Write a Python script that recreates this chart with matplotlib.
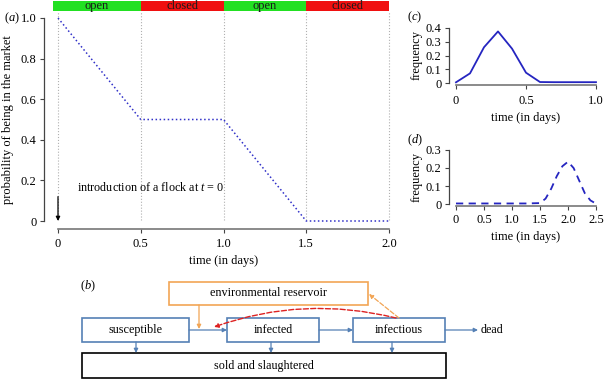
import numpy as np
import matplotlib
matplotlib.use("Agg")
import matplotlib.pyplot as plt
from matplotlib.patches import Rectangle

plt.rcParams["font.family"] = ["Liberation Serif", "DejaVu Serif"]
plt.rcParams["mathtext.fontset"] = "custom"
plt.rcParams["mathtext.rm"] = "Liberation Serif"
plt.rcParams["mathtext.it"] = "Liberation Serif:italic"
plt.rcParams["font.size"] = 9

# panel (a): market schedule and presence probability
a_t = [0, 0.5, 1.0, 1.5, 2.0]
a_p = [1.0, 0.5, 0.5, 0.0, 0.0]
phases = ["open", "closed", "open", "closed"]
phase_edges = [-0.03, 0.5, 1.0, 1.5, 2.0]

# panel (c): time to infection
c_t = [0, 0.1, 0.2, 0.3, 0.4, 0.5, 0.6, 0.7, 0.8, 0.9, 1.0]
c_f = [0.005, 0.07, 0.26, 0.375, 0.25, 0.075, 0.007, 0.006, 0.006, 0.006, 0.006]

# panel (d): time in market
d_t = [0, 0.25, 0.5, 0.75, 1.0, 1.25, 1.5, 1.6, 1.7, 1.8, 1.9, 2.0, 2.1, 2.2, 2.3, 2.4, 2.5]
d_f = [0.003, 0.003, 0.003, 0.003, 0.003, 0.003, 0.005, 0.03, 0.085, 0.155, 0.21, 0.235, 0.2, 0.13, 0.06, 0.02, 0.002]

W, H = 604, 379
FS = 9
fig = plt.figure(figsize=(W / 100, H / 100), dpi=100)


def px_axes(x0, x1, y0, y1):
    # axes from pixel box (y measured from top)
    return fig.add_axes([x0 / W, 1 - y1 / H, (x1 - x0) / W, (y1 - y0) / H])


def style(ax, left_out, bottom_out, xb, yb):
    for s in ("top", "right"):
        ax.spines[s].set_visible(False)
    ax.spines["left"].set_position(("outward", left_out))
    ax.spines["bottom"].set_position(("outward", bottom_out))
    ax.spines["left"].set_bounds(*yb)
    ax.spines["bottom"].set_bounds(*xb)
    for s in ("left", "bottom"):
        ax.spines[s].set_color("#444444")
        ax.spines[s].set_linewidth(0.9)
    ax.spines["bottom"].set_color("#777777")
    ax.spines["bottom"].set_linewidth(1.2)
    ax.tick_params(length=3, width=0.8, color="#444444", pad=2.5, labelsize=FS)
    ax.patch.set_alpha(0)


# ---- (a)
ax = px_axes(58, 389, 18, 221)
ax.set_xlim(0, 2)
ax.set_ylim(0, 1)
style(ax, 10, 5.5, (0, 2), (0, 1))
ax.set_xticks([0, 0.5, 1.0, 1.5, 2.0], ["0", "0.5", "1.0", "1.5", "2.0"])
ax.set_yticks([0, 0.2, 0.4, 0.6, 0.8, 1.0], ["0", "0.2", "0.4", "0.6", "0.8", "1.0"])
ax.tick_params(axis="x", pad=3.5)
for t in a_t:
    ax.plot([t, t], [0.005, 1.034], color="#b0b0b0", ls=":", lw=0.8, clip_on=False)
ax.plot(a_t, a_p, color="#3030c8", ls=":", lw=1.1, clip_on=False)
cols = {"open": "#22e022", "closed": "#f01010"}
for i, ph in enumerate(phases):
    x0, x1 = phase_edges[i], phase_edges[i + 1]
    ax.add_patch(Rectangle((x0, 1.034), x1 - x0, 0.048, color=cols[ph], clip_on=False, lw=0))
    ax.text((x0 + x1) / 2, 1.057, ph, ha="center", va="center", fontsize=FS, color="#1a1a1a")
ax.annotate("", xy=(0, 0.0), xytext=(0, 0.12),
            arrowprops=dict(arrowstyle="-|>", color="black", lw=0.9, mutation_scale=6,
                            shrinkA=0, shrinkB=0))
ax.text(0.115, 0.165, "introduction of a flock at $t$ = 0", ha="left", va="center", fontsize=8.7)
ax.set_xlabel("time (in days)", fontsize=FS, labelpad=4)
ax.set_ylabel("probability of being in the market", fontsize=FS, labelpad=5)
fig.text(4 / W, 1 - 18 / H, "($a$)", fontsize=FS, va="center")

# ---- (c)
axc = px_axes(456, 596, 28, 83)
axc.set_xlim(0, 1)
axc.set_ylim(0, 0.4)
style(axc, 5, 1.5, (0, 1), (0, 0.4))
axc.plot(c_t, c_f, color="#2525c0", lw=1.3, clip_on=False)
axc.set_xticks([0, 0.5, 1.0], ["0", "0.5", "1.0"])
axc.set_yticks([0, 0.1, 0.2, 0.3, 0.4], ["0", "0.1", "0.2", "0.3", "0.4"])
axc.tick_params(axis="x", pad=4)
axc.set_xlabel("time (in days)", fontsize=FS, labelpad=4)
axc.set_ylabel("frequency", fontsize=FS, labelpad=2)
fig.text(407 / W, 1 - 17 / H, "($c$)", fontsize=FS, va="center")

# ---- (d)
axd = px_axes(456, 596, 150, 204)
axd.set_xlim(0, 2.5)
axd.set_ylim(0, 0.3)
style(axd, 5, 1.5, (0, 2.5), (0, 0.3))
axd.plot(d_t, d_f, color="#2525c0", lw=1.3, ls=(0, (4, 3)), clip_on=False)
axd.set_xticks([0, 0.5, 1.0, 1.5, 2.0, 2.5], ["0", "0.5", "1.0", "1.5", "2.0", "2.5"])
axd.set_yticks([0, 0.1, 0.2, 0.3], ["0", "0.1", "0.2", "0.3"])
axd.set_xlabel("time (in days)", fontsize=FS, labelpad=4)
axd.set_ylabel("frequency", fontsize=FS, labelpad=2)
fig.text(407 / W, 1 - 140 / H, "($d$)", fontsize=FS, va="center")

# ---- (b) flow diagram, pixel coordinates
ab = fig.add_axes([0, 0, 1, 1], zorder=-1)
ab.set_xlim(0, W)
ab.set_ylim(H, 0)
ab.axis("off")
BLUE, ORANGE, RED = "#5580b5", "#f2a555", "#dd2222"


def box(x0, x1, y0, y1, label, ec):
    ab.add_patch(Rectangle((x0, y0), x1 - x0, y1 - y0, fill=False, ec=ec, lw=1.2))
    ab.text((x0 + x1) / 2, (y0 + y1) / 2, label, ha="center", va="center", fontsize=8.7)


def arrow(p0, p1, color, ls="-", rad=0.0, lw=0.9):
    ab.annotate("", xy=p1, xytext=p0,
                arrowprops=dict(arrowstyle="-|>", color=color, lw=lw, ls=ls, mutation_scale=6,
                                shrinkA=0, shrinkB=0, connectionstyle="arc3,rad=%g" % rad))


ab.text(88, 286, "($b$)", fontsize=FS, ha="center", va="center")
box(169, 368, 282, 305, "environmental reservoir", ORANGE)
box(82, 189, 318, 342, "susceptible", BLUE)
box(227, 319, 318, 342, "infected", BLUE)
box(353, 445, 318, 342, "infectious", BLUE)
box(82, 446, 353, 378, "sold and slaughtered", "black")
ab.text(481, 330, "dead", fontsize=8.7, ha="left", va="center")

arrow((189, 330), (227, 330), BLUE)
arrow((319, 330), (353, 330), BLUE)
arrow((445, 330), (478, 330), BLUE)
for x in (136, 271, 392):
    arrow((x, 342), (x, 353), BLUE)
arrow((199, 305), (199, 329), ORANGE)
arrow((399, 318), (369, 294), ORANGE, ls="--")
arrow((396, 318), (214, 327), RED, ls="--", rad=0.15, lw=1.0)

fig.savefig("out.png", dpi=100)
